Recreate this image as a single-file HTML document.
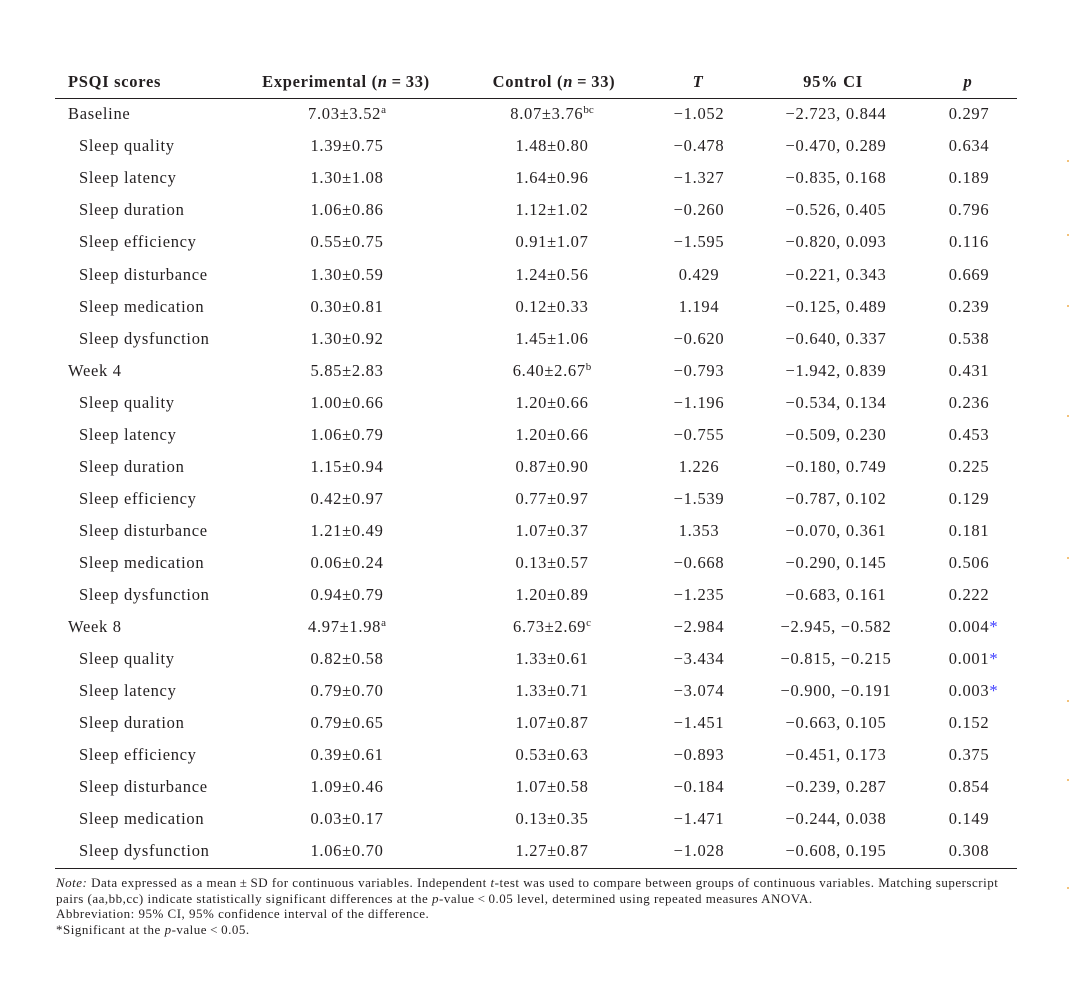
<!DOCTYPE html>
<html>
<head>
<meta charset="utf-8">
<style>
  html, body { margin:0; padding:0; background:#ffffff; }
  body { width:1071px; height:988px; position:relative; overflow:hidden;
         font-family:"Liberation Serif", "DejaVu Serif", serif; color:#231f20; }
  .hdr { position:absolute; top:66.43px; left:0; width:1071px; height:32px;
         font-size:16.5px; line-height:32px; font-weight:bold; letter-spacing:0.7px; white-space:nowrap; }
  .rows { position:absolute; top:98.43px; left:0; width:1071px;
          font-size:16.5px; letter-spacing:0.7px; white-space:nowrap; }
  .r { position:relative; height:32.03px; line-height:32px; }
  .c { position:absolute; top:0; text-align:center; }
  .lab0 { position:absolute; left:68px; top:0; }
  .lab1 { position:absolute; left:79px; top:0; }
  .e { left:247px; width:200px; }
  .k { left:452px; width:200px; }
  .t { left:599px; width:200px; }
  .ci { left:736px; width:200px; }
  .p { left:869px; width:200px; }
  .he { left:246px; width:200px; }
  .hk { left:454px; width:200px; }
  .ht { left:598px; width:200px; }
  .hci { left:733px; width:200px; }
  .hp { left:868px; width:200px; }
  sup { font-size:11px; position:relative; top:-6px; vertical-align:baseline; letter-spacing:0; line-height:0; }
  .ast { color:#3c3cff; margin-right:-9px; }
  .rule { position:absolute; left:55px; width:962px; background:#231f20; }
  .notes { position:absolute; top:875px; left:56px; font-size:13px; line-height:15.5px;
           letter-spacing:0.5px; white-space:nowrap; }
  .dot { position:absolute; left:1067px; width:2px; height:2px; background:#f3c27a; }
</style>
</head>
<body>

<div class="hdr">
  <div class="lab0">PSQI scores</div>
  <div class="c he">Experimental (<i>n</i>&#8201;=&#8201;33)</div>
  <div class="c hk">Control (<i>n</i>&#8201;=&#8201;33)</div>
  <div class="c ht"><i>T</i></div>
  <div class="c hci">95% CI</div>
  <div class="c hp"><i>p</i></div>
</div>

<div class="rule" style="top:97.6px;height:1.3px;"></div>

<div class="rows">
  <div class="r"><div class="lab0">Baseline</div><div class="c e">7.03±3.52<sup>a</sup></div><div class="c k">8.07±3.76<sup>bc</sup></div><div class="c t">−1.052</div><div class="c ci">−2.723, 0.844</div><div class="c p">0.297</div></div>
  <div class="r"><div class="lab1">Sleep quality</div><div class="c e">1.39±0.75</div><div class="c k">1.48±0.80</div><div class="c t">−0.478</div><div class="c ci">−0.470, 0.289</div><div class="c p">0.634</div></div>
  <div class="r"><div class="lab1">Sleep latency</div><div class="c e">1.30±1.08</div><div class="c k">1.64±0.96</div><div class="c t">−1.327</div><div class="c ci">−0.835, 0.168</div><div class="c p">0.189</div></div>
  <div class="r"><div class="lab1">Sleep duration</div><div class="c e">1.06±0.86</div><div class="c k">1.12±1.02</div><div class="c t">−0.260</div><div class="c ci">−0.526, 0.405</div><div class="c p">0.796</div></div>
  <div class="r"><div class="lab1">Sleep efficiency</div><div class="c e">0.55±0.75</div><div class="c k">0.91±1.07</div><div class="c t">−1.595</div><div class="c ci">−0.820, 0.093</div><div class="c p">0.116</div></div>
  <div class="r"><div class="lab1">Sleep disturbance</div><div class="c e">1.30±0.59</div><div class="c k">1.24±0.56</div><div class="c t">0.429</div><div class="c ci">−0.221, 0.343</div><div class="c p">0.669</div></div>
  <div class="r"><div class="lab1">Sleep medication</div><div class="c e">0.30±0.81</div><div class="c k">0.12±0.33</div><div class="c t">1.194</div><div class="c ci">−0.125, 0.489</div><div class="c p">0.239</div></div>
  <div class="r"><div class="lab1">Sleep dysfunction</div><div class="c e">1.30±0.92</div><div class="c k">1.45±1.06</div><div class="c t">−0.620</div><div class="c ci">−0.640, 0.337</div><div class="c p">0.538</div></div>
  <div class="r"><div class="lab0">Week 4</div><div class="c e">5.85±2.83</div><div class="c k">6.40±2.67<sup>b</sup></div><div class="c t">−0.793</div><div class="c ci">−1.942, 0.839</div><div class="c p">0.431</div></div>
  <div class="r"><div class="lab1">Sleep quality</div><div class="c e">1.00±0.66</div><div class="c k">1.20±0.66</div><div class="c t">−1.196</div><div class="c ci">−0.534, 0.134</div><div class="c p">0.236</div></div>
  <div class="r"><div class="lab1">Sleep latency</div><div class="c e">1.06±0.79</div><div class="c k">1.20±0.66</div><div class="c t">−0.755</div><div class="c ci">−0.509, 0.230</div><div class="c p">0.453</div></div>
  <div class="r"><div class="lab1">Sleep duration</div><div class="c e">1.15±0.94</div><div class="c k">0.87±0.90</div><div class="c t">1.226</div><div class="c ci">−0.180, 0.749</div><div class="c p">0.225</div></div>
  <div class="r"><div class="lab1">Sleep efficiency</div><div class="c e">0.42±0.97</div><div class="c k">0.77±0.97</div><div class="c t">−1.539</div><div class="c ci">−0.787, 0.102</div><div class="c p">0.129</div></div>
  <div class="r"><div class="lab1">Sleep disturbance</div><div class="c e">1.21±0.49</div><div class="c k">1.07±0.37</div><div class="c t">1.353</div><div class="c ci">−0.070, 0.361</div><div class="c p">0.181</div></div>
  <div class="r"><div class="lab1">Sleep medication</div><div class="c e">0.06±0.24</div><div class="c k">0.13±0.57</div><div class="c t">−0.668</div><div class="c ci">−0.290, 0.145</div><div class="c p">0.506</div></div>
  <div class="r"><div class="lab1">Sleep dysfunction</div><div class="c e">0.94±0.79</div><div class="c k">1.20±0.89</div><div class="c t">−1.235</div><div class="c ci">−0.683, 0.161</div><div class="c p">0.222</div></div>
  <div class="r"><div class="lab0">Week 8</div><div class="c e">4.97±1.98<sup>a</sup></div><div class="c k">6.73±2.69<sup>c</sup></div><div class="c t">−2.984</div><div class="c ci">−2.945, −0.582</div><div class="c p">0.004<span class="ast">*</span></div></div>
  <div class="r"><div class="lab1">Sleep quality</div><div class="c e">0.82±0.58</div><div class="c k">1.33±0.61</div><div class="c t">−3.434</div><div class="c ci">−0.815, −0.215</div><div class="c p">0.001<span class="ast">*</span></div></div>
  <div class="r"><div class="lab1">Sleep latency</div><div class="c e">0.79±0.70</div><div class="c k">1.33±0.71</div><div class="c t">−3.074</div><div class="c ci">−0.900, −0.191</div><div class="c p">0.003<span class="ast">*</span></div></div>
  <div class="r"><div class="lab1">Sleep duration</div><div class="c e">0.79±0.65</div><div class="c k">1.07±0.87</div><div class="c t">−1.451</div><div class="c ci">−0.663, 0.105</div><div class="c p">0.152</div></div>
  <div class="r"><div class="lab1">Sleep efficiency</div><div class="c e">0.39±0.61</div><div class="c k">0.53±0.63</div><div class="c t">−0.893</div><div class="c ci">−0.451, 0.173</div><div class="c p">0.375</div></div>
  <div class="r"><div class="lab1">Sleep disturbance</div><div class="c e">1.09±0.46</div><div class="c k">1.07±0.58</div><div class="c t">−0.184</div><div class="c ci">−0.239, 0.287</div><div class="c p">0.854</div></div>
  <div class="r"><div class="lab1">Sleep medication</div><div class="c e">0.03±0.17</div><div class="c k">0.13±0.35</div><div class="c t">−1.471</div><div class="c ci">−0.244, 0.038</div><div class="c p">0.149</div></div>
  <div class="r"><div class="lab1">Sleep dysfunction</div><div class="c e">1.06±0.70</div><div class="c k">1.27±0.87</div><div class="c t">−1.028</div><div class="c ci">−0.608, 0.195</div><div class="c p">0.308</div></div>
</div>

<div class="rule" style="top:867.6px;height:1.3px;"></div>

<div class="notes">
  <div><i>Note:</i> Data expressed as a mean&#8201;±&#8201;SD for continuous variables. Independent <i>t</i>-test was used to compare between groups of continuous variables. Matching superscript</div>
  <div>pairs (aa,bb,cc) indicate statistically significant differences at the <i>p</i>-value&#8201;&lt;&#8201;0.05 level, determined using repeated measures ANOVA.</div>
  <div>Abbreviation: 95% CI, 95% confidence interval of the difference.</div>
  <div>*Significant at the <i>p</i>-value&#8201;&lt;&#8201;0.05.</div>
</div>

<div class="dot" style="top:160px;"></div>
<div class="dot" style="top:234px;"></div>
<div class="dot" style="top:305px;"></div>
<div class="dot" style="top:415px;"></div>
<div class="dot" style="top:557px;"></div>
<div class="dot" style="top:700px;"></div>
<div class="dot" style="top:779px;"></div>
<div class="dot" style="top:887px;"></div>

</body>
</html>
